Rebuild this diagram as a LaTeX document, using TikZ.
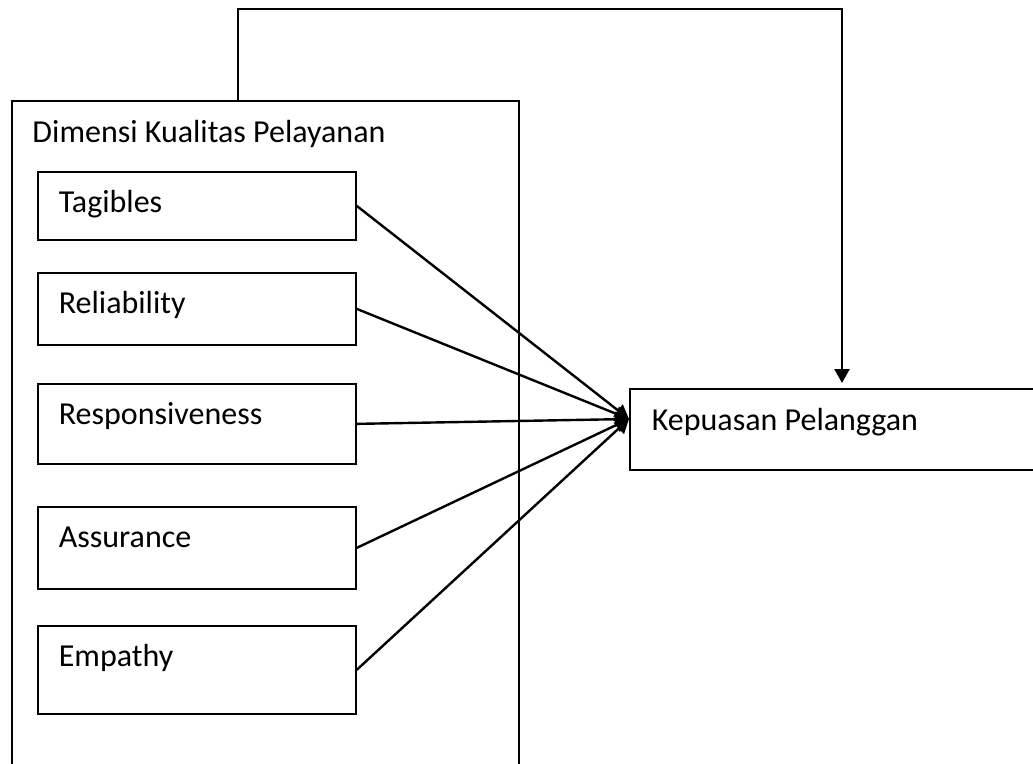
\documentclass[tikz,border=0pt]{standalone}
\usepackage{fontspec}
\setmainfont{Carlito}
\usetikzlibrary{arrows.meta}

\tikzset{every picture/.style={line width=0.75pt}}
\tikzset{
  every node/.style={font=\fontsize{24pt}{29pt}\selectfont},
  kotak/.style={draw, line width=1.3pt, anchor=north west, inner ysep=0pt, inner xsep=15.75pt, text width=207pt, align=flush left, text height=30.75pt},
  panah/.style={line width=1.8pt, -{Triangle[length=10.5pt,width=11.25pt]}},
}

\begin{document}
\begin{tikzpicture}[x=0.75pt,y=0.75pt,yscale=-1,xscale=1]
        \useasboundingbox (0,0) rectangle (1033,764);
        \clip (0,0) rectangle (1033,764);

        %Kotak luar
        \node [draw, line width=1.3pt, anchor=north west, inner sep=0pt, minimum width=380.25pt, minimum height=525pt] (dimensi) at (11,100) {};
        % Judul
        \node [anchor=base west, inner sep=0pt] (judul) at (32,142) {Dimensi Kualitas Pelayanan};

        % Dimensi
        \node [kotak, text depth=20.25pt] (tangible) at (37,171) {Tagibles};
        \node [kotak, text depth=23.25pt] (reliability) at (37,272) {Reliability};
        \node [kotak, text depth=29.25pt] (responsiveness) at (37,383) {Responsiveness};
        \node [kotak, text depth=30.75pt] (assurance) at (37,506) {Assurance};
        \node [kotak, text depth=35.25pt] (empathy) at (37,625) {Empathy};

        % Kepuasan
        \node [kotak, text width=304.5pt, inner xsep=16.5pt, text height=31.5pt, text depth=29.25pt] (kepuasan) at (629,388) {Kepuasan Pelanggan};

        \coordinate (masuk) at (629,419);
        \coordinate (belok) at (842,9);

        % Panah
        \draw [panah] (tangible.east) -- (masuk);
        \draw [panah] (reliability.east) -- (masuk);
        \draw [panah] (responsiveness.east) -- (masuk);
        \draw [panah] (assurance.east) -- (masuk);
        \draw [panah] (empathy.east) -- (masuk);
        \draw [panah, shorten >=3.75pt] (dimensi.north west) ++(227,0) |- (belok) -- (belok |- kepuasan.north);

\end{tikzpicture}
\end{document}
